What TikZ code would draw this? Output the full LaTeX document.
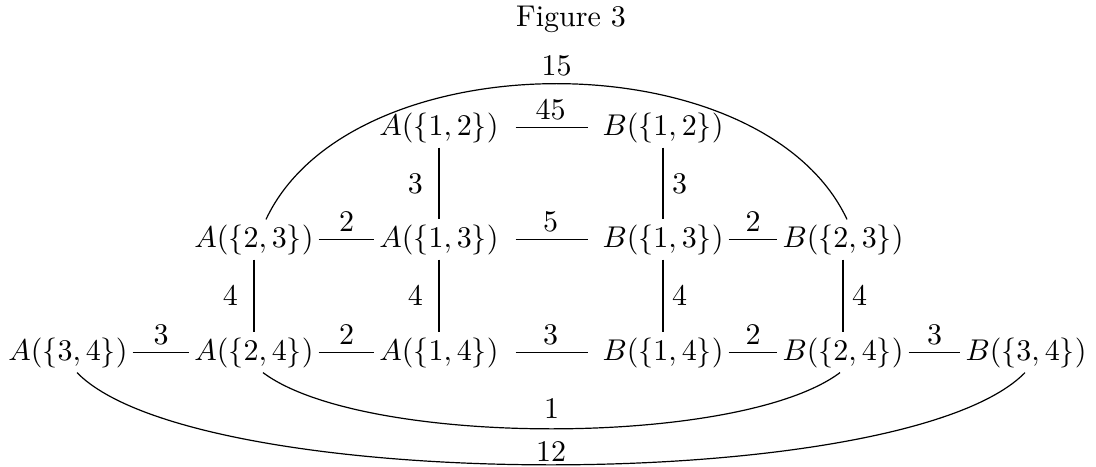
\documentclass[tikz,border=0pt]{standalone}
\usetikzlibrary{calc}
\begin{document}
\begin{tikzpicture}[x=0.33333pt,y=-0.33333pt,
  v/.style={anchor=base, inner xsep=1.5pt, inner ysep=1.5pt},
  lab/.style={above, inner sep=2.5pt},
  labl/.style={left, inner sep=5.2pt},
  labr/.style={right, inner sep=2.8pt},
  gap/.style={shorten <=4pt, shorten >=3pt}]
\useasboundingbox (0,0) rectangle (1096,466);
\node[anchor=base] (title) at (571,27) {Figure 3};
% row 1
\node[v] (a12) at (439,135) {$A(\{1,2\})$};
\node[v] (b12) at (663,135) {$B(\{1,2\})$};
% row 2
\node[v] (a23) at (254,247) {$A(\{2,3\})$};
\node[v] (a13) at (439,247) {$A(\{1,3\})$};
\node[v] (b13) at (663,247) {$B(\{1,3\})$};
\node[v] (b23) at (843,247) {$B(\{2,3\})$};
% row 3
\node[v] (a34) at (68,360) {$A(\{3,4\})$};
\node[v] (a24) at (254,360) {$A(\{2,4\})$};
\node[v] (a14) at (439,360) {$A(\{1,4\})$};
\node[v] (b14) at (663,360) {$B(\{1,4\})$};
\node[v] (b24) at (843,360) {$B(\{2,4\})$};
\node[v] (b34) at (1026,360) {$B(\{3,4\})$};
% horizontal edges
\draw[gap] (a12) -- node[lab] {$45$} (b12);
\draw (a23) -- node[lab] {$2$} (a13);
\draw[gap] (a13) -- node[lab] {$5$} (b13);
\draw (b13) -- node[lab] {$2$} (b23);
\draw (a34) -- node[lab] {$3$} (a24);
\draw (a24) -- node[lab] {$2$} (a14);
\draw[gap] (a14) -- node[lab] {$3$} (b14);
\draw (b14) -- node[lab] {$2$} (b24);
\draw (b24) -- node[lab] {$3$} (b34);
% vertical edges
\draw (a12) -- node[labl] {$3$} (a13);
\draw (a13) -- node[labl] {$4$} (a14);
\draw (a23) -- node[labl] {$4$} (a24);
\draw (b12) -- node[labr] {$3$} (b13);
\draw (b13) -- node[labr] {$4$} (b14);
\draw (b23) -- node[labr] {$4$} (b24);
% arcs
\draw ($(a23.north)+(12,0)$) .. controls +(85,-181) and +(-85,-181) .. node[pos=0.5, above, inner sep=2.5pt] {$15$} ($(b23.north)+(4,0)$);
\draw ($(a24.south)+(9,0)$) .. controls +(100,75) and +(-100,75) .. node[pos=0.5, above, inner sep=3.3pt] {$1$} ($(b24.south)+(-3,0)$);
\draw ($(a34.south)+(9,0)$) .. controls +(120,123) and +(-120,123) .. node[pos=0.5, above, inner sep=1pt] {$12$} ($(b34.south)+(-1,0)$);
\end{tikzpicture}
\end{document}
